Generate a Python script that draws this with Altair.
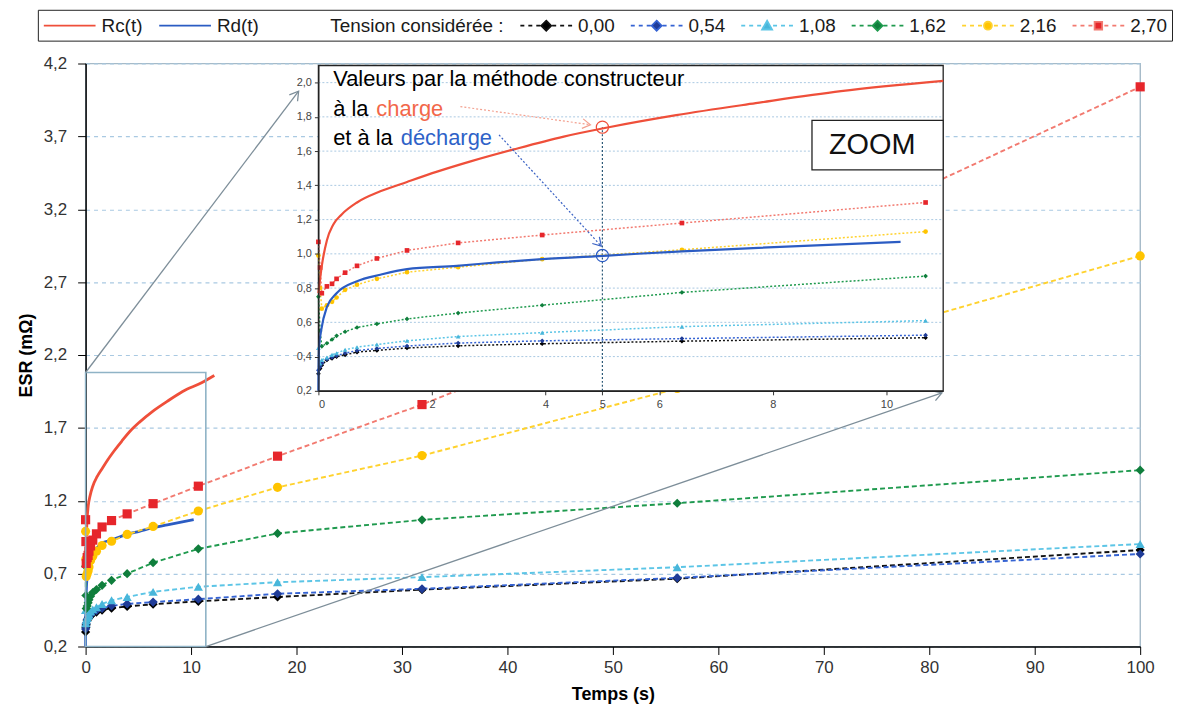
import math
import altair as alt
import pandas as pd

FONT = "Liberation Sans"

# ---------------- values ----------------
T_MESURE = [0, 0.03, 0.06, 0.15, 0.24, 0.32, 0.47, 0.68, 1.03, 1.56, 2.46, 3.94, 6.4, 10.69, 18.2, 31.9, 56.1, 100]
TENSIONS = ["0,00", "0,54", "1,08", "1,62", "2,16", "2,70"]
ESR_000 = [0.30, 0.33, 0.35, 0.38, 0.39, 0.40, 0.41, 0.426, 0.436, 0.45, 0.463, 0.475, 0.49, 0.51, 0.54, 0.59, 0.665, 0.862]
ESR_054 = [0.32, 0.34, 0.36, 0.385, 0.395, 0.405, 0.42, 0.435, 0.447, 0.462, 0.479, 0.492, 0.505, 0.525, 0.562, 0.596, 0.671, 0.835]
ESR_108 = [0.45, 0.36, 0.38, 0.395, 0.41, 0.42, 0.44, 0.455, 0.47, 0.492, 0.517, 0.54, 0.575, 0.61, 0.641, 0.676, 0.744, 0.903]
ESR_162 = [0.75, 0.55, 0.46, 0.478, 0.50, 0.521, 0.545, 0.57, 0.591, 0.62, 0.654, 0.70, 0.775, 0.87, 0.976, 1.069, 1.183, 1.41]
ESR_216 = [0.99, 0.80, 0.68, 0.70, 0.72, 0.745, 0.79, 0.82, 0.854, 0.893, 0.922, 0.969, 1.024, 1.13, 1.292, 1.51, 1.97, 2.88]
ESR_270 = [1.07, 0.92, 0.77, 0.81, 0.825, 0.854, 0.89, 0.93, 0.973, 1.02, 1.064, 1.11, 1.18, 1.30, 1.506, 1.86, 2.56, 4.04]

T_RC = [0, 0.06, 0.15, 0.26, 0.41, 0.68, 1.09, 1.56, 2.09, 2.68, 3.44, 4.32, 5.09, 6.3, 7.7, 9.2, 11.0, 12.2]
ESR_RC = [0.77, 0.93, 1.08, 1.17, 1.23, 1.30, 1.365, 1.42, 1.48, 1.54, 1.61, 1.685, 1.738, 1.81, 1.88, 1.95, 2.01, 2.06]
T_RD = [0, 0.01, 0.05, 0.15, 0.32, 0.68, 1.09, 1.56, 2.44, 3.15, 3.94, 5.09, 6.4, 7.75, 10.25]
ESR_RD = [0.2, 0.45, 0.556, 0.69, 0.77, 0.84, 0.878, 0.911, 0.93, 0.95, 0.969, 0.99, 1.015, 1.035, 1.07]

CURVES = ["Rc(t)", "Rd(t)"]
LEGEND_HEADER = "Tension considérée :"
LEGEND_ITEMS = CURVES + [LEGEND_HEADER] + TENSIONS
LINE_COLORS = ["#ef4f3a", "#2b5cc3", "transparent", "#111111", "#3563d3", "#5cc5e6", "#1f9a4e", "#ffd22e", "#f27a70"]
MARK_COLORS = ["#000000", "#1f3c98", "#48b6da", "#0f7e3c", "#ffc400", "#e6262b"]
MARK_SHAPES = ["diamond", "diamond", "triangle-up", "diamond", "circle", "square"]

X_TICKS = list(range(0, 101, 10))
Y_TICKS = [0.2, 0.7, 1.2, 1.7, 2.2, 2.7, 3.2, 3.7, 4.2]
ZX_TICKS = [0, 2, 4, 5, 6, 8, 10]
ZY_TICKS = [0.2, 0.4, 0.6, 0.8, 1.0, 1.2, 1.4, 1.6, 1.8, 2.0]
X_DOMAIN = [0, 100]
Y_DOMAIN = [0.2, 4.2]
ZX_DOMAIN = [0, 11]
ZY_DOMAIN = [0.2, 2.1]

# zoomed region and connectors (main-chart coordinates)
ZOOM_T = [0, 11.4]
ZOOM_R = [0.2, 2.08]
CONN_T = [0, 11.4]
CONN_R = [2.08, 0.2]
CONN_T2 = [20.2, 81.2]
CONN_R2 = [4.01, 1.94]

# annotations of the zoom (zoom coordinates)
T_MARK = 5
RC_MARK = 1.74
RD_MARK = 0.99
ARR_CH = [2.5, 1.86, 4.79, 1.754]
ARR_DE = [3.18, 1.695, 4.98, 1.045]
TXT_LINES = ["Valeurs par la méthode constructeur", "à la ", "et à la "]
TXT_T = [0.26, 0.26, 0.26]
TXT_R = [2.02, 1.844, 1.676]
WORD_CH = ("charge", 1.02, 1.844)
WORD_DE = ("décharge", 1.45, 1.676)
ZOOM_BOX = [8.69, 11.0, 1.49, 1.78]
ZOOM_LABEL = ("ZOOM", 9.75, 1.635)

# ---------------- layout ----------------
W, H = 1060, 586
ZL, ZR, ZT, ZB = 234, 862, 2, 329

mes = pd.DataFrame([
    {"serie": s, "t": t, "R": r}
    for s, vals in zip(TENSIONS, [ESR_000, ESR_054, ESR_108, ESR_162, ESR_216, ESR_270])
    for t, r in zip(T_MESURE, vals)
])
curves = pd.DataFrame(
    [{"serie": "Rc(t)", "t": t, "R": r} for t, r in zip(T_RC, ESR_RC)]
    + [{"serie": "Rd(t)", "t": t, "R": r} for t, r in zip(T_RD, ESR_RD)]
)
mes_z = mes[mes["t"] <= ZX_DOMAIN[1]]
curves_z = curves[curves["t"] <= ZX_DOMAIN[1]]


def comma(fmt):
    return f"replace(format(datum.value, '{fmt}'), '.', ',')"


SC_MX = alt.Scale(domain=X_DOMAIN, nice=False, zero=False)
SC_MY = alt.Scale(domain=Y_DOMAIN, nice=False, zero=False)
SC_ZX = alt.Scale(domain=ZX_DOMAIN, range=[ZL, ZR], nice=False, zero=False)
SC_ZY = alt.Scale(domain=ZY_DOMAIN, range=[ZB, ZT], nice=False, zero=False)

AX_MX = alt.Axis(values=X_TICKS, title="Temps (s)", labelFont=FONT, labelFontSize=17, labelColor="#333",
                 tickSize=8, tickColor="#000", domainColor="#000", domainWidth=1.5, labelPadding=5,
                 titleFont=FONT, titleFontSize=18, titleFontWeight="bold", titleColor="#000",
                 titlePadding=10, grid=False, labelFlush=False)
AX_MY = alt.Axis(values=Y_TICKS, title="ESR (mΩ)", labelExpr=comma(".1f"), labelFont=FONT, labelFontSize=17,
                 labelColor="#333", tickSize=8, tickColor="#000", domainColor="#000", domainWidth=1.5,
                 labelPadding=11, titleFont=FONT, titleFontSize=18, titleFontWeight="bold", titleColor="#000",
                 titlePadding=8, grid=True, gridColor="#a9c9e2", gridDash=[4, 4], gridWidth=1.2)
AX_ZX = alt.Axis(values=ZX_TICKS, title=None, orient="bottom", offset=-(H - ZB), zindex=1, labelFont=FONT,
                 labelFontSize=11, labelColor="#444", tickSize=4, tickColor="#333", domainColor="#222",
                 domainWidth=1.2, grid=False, labelPadding=4)
AX_ZY = alt.Axis(values=ZY_TICKS, title=None, orient="left", offset=-ZL, zindex=1, labelFont=FONT,
                 labelExpr=comma(".1f"), labelFontSize=11, labelColor="#444", tickSize=4, tickColor="#333",
                 domainColor="#222", domainWidth=1.2, grid=False, labelPadding=3)


def xm(f="t"):
    return alt.X(f"{f}:Q", scale=SC_MX, axis=AX_MX)


def ym(f="R"):
    return alt.Y(f"{f}:Q", scale=SC_MY, axis=AX_MY)


def xz(f="t"):
    return alt.X(f"{f}:Q", scale=SC_ZX, axis=AX_ZX)


def yz(f="R"):
    return alt.Y(f"{f}:Q", scale=SC_ZY, axis=AX_ZY)


# ---------------- legend with custom symbols ----------------
SOLID = "M-1,0H4.2"
DASHES = "M-1,0H-0.6M-0.2,0H0.2M0.6,0H1.0M2.2,0H2.6M3.0,0H3.4M3.8,0H4.2"
MARK_PATHS = {
    "diamond": "M1.6,-0.5L2.1,0L1.6,0.5L1.1,0Z",
    "triangle-up": "M1.6,-0.5L2.1,0.38L1.1,0.38Z",
    "square": "M1.22,-0.38H1.98V0.38H1.22Z",
    "circle": "M1.2,0A0.4,0.4 0 1,0 2.0,0A0.4,0.4 0 1,0 1.2,0Z",
}


def switch(pairs, default):
    e = f"'{default}'"
    for k, v in reversed(pairs):
        e = f"datum.value === '{k}' ? '{v}' : ({e})"
    return e


shape_expr = switch([(c, SOLID) for c in CURVES]
                    + [(k, DASHES + MARK_PATHS[m]) for k, m in zip(TENSIONS, MARK_SHAPES)], "M0,0")
fill_expr = switch(list(zip(TENSIONS, MARK_COLORS)), "transparent")

LEGEND = alt.Legend(
    orient="none", legendX=-48, legendY=-54, direction="horizontal", columns=len(LEGEND_ITEMS),
    title=None, symbolSize=400, labelOffset=37, columnPadding=12, labelFont=FONT, labelFontSize=19,
    labelColor="#1a1a1a", labelLimit=400, padding=5, strokeColor="#222", fillColor="white",
    symbolType={"expr": shape_expr},
    symbolFillColor={"expr": fill_expr},
    symbolStrokeWidth=1.8, symbolOpacity=1,
)

SC_COLOR = alt.Scale(domain=LEGEND_ITEMS, range=LINE_COLORS)
SC_FILL = alt.Scale(domain=TENSIONS, range=MARK_COLORS)
SC_SHAPE = alt.Scale(domain=TENSIONS, range=MARK_SHAPES)


def col():
    return alt.Color("serie:N", scale=SC_COLOR, legend=LEGEND)


ARROW = "M-1,-0.6L0,0L-1,0.6"


def angle(dt, dr, sx, sy):
    return math.degrees(math.atan2(-dr * sy, dt * sx)) % 360


SX_M = W / (X_DOMAIN[1] - X_DOMAIN[0])
SY_M = H / (Y_DOMAIN[1] - Y_DOMAIN[0])
SX_Z = (ZR - ZL) / (ZX_DOMAIN[1] - ZX_DOMAIN[0])
SY_Z = (ZB - ZT) / (ZY_DOMAIN[1] - ZY_DOMAIN[0])

# ---------------- main chart ----------------
main_curves = alt.Chart(curves).mark_line(interpolate="monotone", strokeWidth=2.8).encode(
    x=xm(), y=ym(), color=col())
main_dash = alt.Chart(mes).mark_line(strokeDash=[5, 3], strokeWidth=1.9).encode(
    x=xm(), y=ym(), color=col())
main_pts = alt.Chart(mes).mark_point(filled=True, size=85, opacity=1).encode(
    x=xm(), y=ym(),
    fill=alt.Fill("serie:N", scale=SC_FILL, legend=None),
    shape=alt.Shape("serie:N", scale=SC_SHAPE, legend=None))

zoom_rect = alt.Chart(pd.DataFrame({"t": [ZOOM_T[0]], "t2": [ZOOM_T[1]], "R": [ZOOM_R[0]], "R2": [ZOOM_R[1]]})
                      ).mark_rect(fillOpacity=0, stroke="#8fb3c6", strokeWidth=1.6).encode(
    x=xm(), x2=alt.X2("t2:Q"), y=ym(), y2=alt.Y2("R2:Q"))
conn_df = pd.DataFrame({"t": CONN_T, "R": CONN_R, "t2": CONN_T2, "R2": CONN_R2})
conn_df["ang"] = [angle(b - a, d - c, SX_M, SY_M) for a, c, b, d in zip(CONN_T, CONN_R, CONN_T2, CONN_R2)]
conn = alt.Chart(conn_df).mark_rule(color="#7d8e99", strokeWidth=1.3).encode(
    x=xm(), y=ym(), x2=alt.X2("t2:Q"), y2=alt.Y2("R2:Q"))
conn_head = alt.Chart(conn_df).mark_point(shape=ARROW, filled=False, size=300, strokeWidth=1.3,
                                          color="#7d8e99", opacity=1).encode(
    x=xm("t2"), y=ym("R2"), angle=alt.Angle("ang:Q", scale=None))

main_group = alt.layer(main_curves, main_dash, main_pts, zoom_rect, conn, conn_head)

# ---------------- zoom (inset) ----------------
bg = alt.Chart(pd.DataFrame({"t": [ZX_DOMAIN[0]], "t2": [ZX_DOMAIN[1]], "R": [ZY_DOMAIN[0]], "R2": [ZY_DOMAIN[1]]})
               ).mark_rect(fill="white", stroke="#222", strokeWidth=1.3).encode(
    x=xz(), x2=alt.X2("t2:Q"), y=yz(), y2=alt.Y2("R2:Q"))
zgrid = alt.Chart(pd.DataFrame({"R": ZY_TICKS[1:], "t": ZX_DOMAIN[0], "t2": ZX_DOMAIN[1]})).mark_rule(
    color="#a9c9e2", strokeDash=[2, 2], strokeWidth=1).encode(x=xz(), x2=alt.X2("t2:Q"), y=yz())
vline = alt.Chart(pd.DataFrame({"t": [T_MARK], "R": [ZY_DOMAIN[0]], "R2": [RC_MARK]})).mark_rule(
    color="#2d5a78", strokeDash=[2, 2], strokeWidth=1.2).encode(x=xz(), y=yz(), y2=alt.Y2("R2:Q"))
z_dash = alt.Chart(mes_z).mark_line(strokeDash=[2, 2], strokeWidth=1.5).encode(x=xz(), y=yz(), color=col())
z_pts = alt.Chart(mes_z).mark_point(filled=True, size=22, opacity=1).encode(
    x=xz(), y=yz(),
    fill=alt.Fill("serie:N", scale=SC_FILL, legend=None),
    shape=alt.Shape("serie:N", scale=SC_SHAPE, legend=None))
z_curves = alt.Chart(curves_z).mark_line(interpolate="monotone", strokeWidth=2.2).encode(
    x=xz(), y=yz(), color=col())
circ_rc = alt.Chart(pd.DataFrame({"t": [T_MARK], "R": [RC_MARK]})).mark_point(
    shape="circle", filled=False, size=150, strokeWidth=1.2, color="#ef4f3a", opacity=1).encode(x=xz(), y=yz())
circ_rd = alt.Chart(pd.DataFrame({"t": [T_MARK], "R": [RD_MARK]})).mark_point(
    shape="circle", filled=False, size=150, strokeWidth=1.2, color="#2b5cc3", opacity=1).encode(x=xz(), y=yz())


def arrow_layers(a, colr):
    d = pd.DataFrame({"t": [a[0]], "R": [a[1]], "t2": [a[2]], "R2": [a[3]],
                      "ang": [angle(a[2] - a[0], a[3] - a[1], SX_Z, SY_Z)]})
    line = alt.Chart(d).mark_rule(color=colr, strokeDash=[2, 2], strokeWidth=1.2).encode(
        x=xz(), y=yz(), x2=alt.X2("t2:Q"), y2=alt.Y2("R2:Q"))
    head = alt.Chart(d).mark_point(shape=ARROW, filled=False, size=260, strokeWidth=1.2, color=colr,
                                   opacity=1).encode(x=xz("t2"), y=yz("R2"), angle=alt.Angle("ang:Q", scale=None))
    return [line, head]


txt = alt.Chart(pd.DataFrame({"txt": TXT_LINES, "t": TXT_T, "R": TXT_R})).mark_text(
    align="left", baseline="middle", font=FONT, fontSize=22, color="#000").encode(x=xz(), y=yz(), text="txt:N")
w_ch = alt.Chart(pd.DataFrame({"txt": [WORD_CH[0]], "t": [WORD_CH[1]], "R": [WORD_CH[2]]})).mark_text(
    align="left", baseline="middle", font=FONT, fontSize=22, color="#f2674a").encode(x=xz(), y=yz(), text="txt:N")
w_de = alt.Chart(pd.DataFrame({"txt": [WORD_DE[0]], "t": [WORD_DE[1]], "R": [WORD_DE[2]]})).mark_text(
    align="left", baseline="middle", font=FONT, fontSize=22, color="#2e62c8").encode(x=xz(), y=yz(), text="txt:N")
zbox = alt.Chart(pd.DataFrame({"t": [ZOOM_BOX[0]], "t2": [ZOOM_BOX[1]], "R": [ZOOM_BOX[2]], "R2": [ZOOM_BOX[3]]})
                 ).mark_rect(fill="white", stroke="#222", strokeWidth=1.3).encode(
    x=xz(), x2=alt.X2("t2:Q"), y=yz(), y2=alt.Y2("R2:Q"))
zlabel = alt.Chart(pd.DataFrame({"txt": [ZOOM_LABEL[0]], "t": [ZOOM_LABEL[1]], "R": [ZOOM_LABEL[2]]})).mark_text(
    align="center", baseline="middle", font=FONT, fontSize=29, color="#111").encode(x=xz(), y=yz(), text="txt:N")

inset_group = alt.layer(
    bg, zgrid, vline, z_dash, z_pts, z_curves, circ_rc, circ_rd,
    *arrow_layers(ARR_CH, "#f3a08f"), *arrow_layers(ARR_DE, "#3a62c4"),
    txt, w_ch, w_de, zbox, zlabel,
)

chart = (
    alt.layer(main_group, inset_group)
    .resolve_scale(x="independent", y="independent")
    .properties(width=W, height=H, autosize=alt.AutoSizeParams(type="none"),
                padding={"left": 78, "top": 54, "right": 34, "bottom": 60}, background="white")
    .configure_view(stroke="#a5bac8", strokeWidth=1.4)
)

chart.save("out.html", embed_options={"renderer": "svg", "actions": False})
